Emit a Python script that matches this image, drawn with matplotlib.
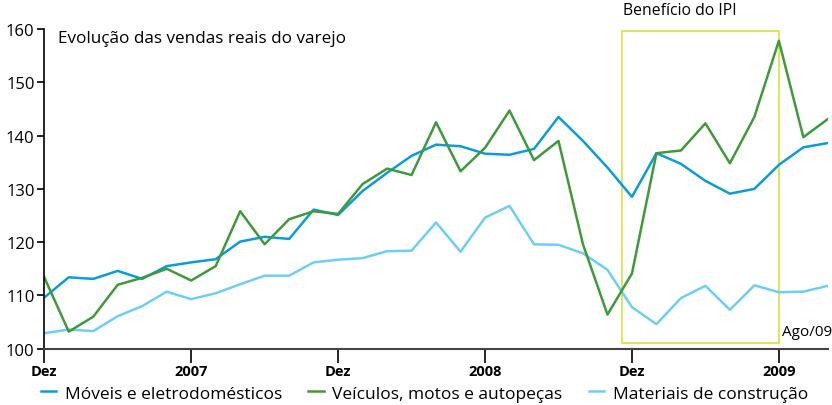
import matplotlib.pyplot as plt
from matplotlib.patches import Rectangle

plt.rcParams["font.family"] = ["Open Sans", "DejaVu Sans"]

# -----------------------------
# Data (monthly, Dez/06 .. Ago/09)
# -----------------------------

moveis = [109.6, 113.4, 113.1, 114.6, 113.1, 115.5, 116.2, 116.8, 120.1, 121.0,
          120.6, 126.1, 125.1, 129.6, 133.0, 136.2, 138.3, 138.0, 136.6, 136.4,
          137.5, 143.5, 139.0, 134.0, 128.5, 136.7, 134.7, 131.5, 129.1, 130.0,
          134.5, 137.8, 138.6]

veiculos = [113.4, 103.2, 106.0, 112.0, 113.3, 115.0, 112.8, 115.5, 125.8, 119.6,
            124.3, 125.8, 125.3, 130.9, 133.8, 132.6, 142.5, 133.3, 137.7, 144.7,
            135.4, 139.0, 119.6, 106.4, 114.1, 136.7, 137.2, 142.3, 134.8, 143.5,
            157.8, 139.7, 143.1]

materiais = [102.9, 103.6, 103.3, 106.1, 108.0, 110.7, 109.3, 110.4, 112.1, 113.7,
             113.7, 116.2, 116.7, 117.0, 118.3, 118.4, 123.7, 118.2, 124.6, 126.8,
             119.6, 119.5, 117.9, 114.8, 107.8, 104.6, 109.5, 111.8, 107.3, 111.9,
             110.6, 110.7, 111.8]

tick_pos = [0, 6, 12, 18, 24, 30]
tick_labels = ["Dez", "2007", "Dez", "2008", "Dez", "2009"]

months = list(range(len(moveis)))

# -----------------------------
# Plot
# -----------------------------

fig = plt.figure(figsize=(8.32, 4.06), dpi=100)
ax = fig.add_axes([0.0532, 0.1387, 0.9418, 0.7873])

ax.plot(months, materiais, color="#6dcff6", linewidth=1.8, label="Materiais de construção")
ax.plot(months, moveis, color="#0a9ddb", linewidth=1.8, label="Móveis e eletrodomésticos")
ax.plot(months, veiculos, color="#3f9a3a", linewidth=1.8, label="Veículos, motos e autopeças")

# IPI benefit window
ax.add_patch(Rectangle((23.6, 101.1), 30 - 23.6, 159.7 - 101.1,
                       fill=False, edgecolor="#d6e03c", linewidth=1.2))
ax.text(23.65, 162.0, "Benefício do IPI", fontsize=11.3, va="bottom", ha="left",
        clip_on=False)
ax.text(0.56, 158.3, "Evolução das vendas reais do varejo", fontsize=12.3,
        va="center", ha="left")
ax.text(32.2, 101.8, "Ago/09", fontsize=11, va="bottom", ha="right")

ax.set_xlim(0, 32)
ax.set_ylim(100, 160)
ax.set_yticks([100, 110, 120, 130, 140, 150, 160])
ax.set_xticks(tick_pos)
ax.set_xticklabels(tick_labels, fontweight="bold", fontsize=10.5)
ax.tick_params(axis="y", labelsize=12, length=5, width=1.2, pad=2)
ax.tick_params(axis="x", length=10, width=1.2, direction="out", pad=1)

for side in ["top", "right"]:
    ax.spines[side].set_visible(False)
ax.spines["left"].set_linewidth(1.2)
ax.spines["bottom"].set_linewidth(1.5)
ax.spines["bottom"].set_color("#444444")

handles, labels = ax.get_legend_handles_labels()
order = [1, 2, 0]
fig.legend([handles[i] for i in order], [labels[i] for i in order],
           loc="lower left", bbox_to_anchor=(0.03, -0.03), ncol=3, frameon=False,
           fontsize=12.5, handlelength=0.9, handletextpad=0.5, columnspacing=1.5)

plt.savefig("out.png")
print("Saved: out.png")
